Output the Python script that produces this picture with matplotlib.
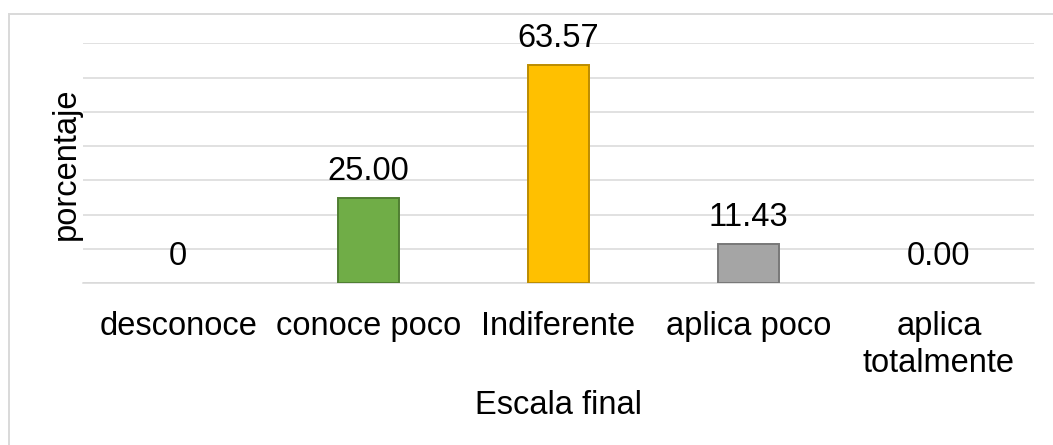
import matplotlib
matplotlib.use("Agg")
import matplotlib.pyplot as plt
from matplotlib.patches import Rectangle

categories = ["desconoce", "conoce poco", "Indiferente", "aplica poco", "aplica\ntotalmente"]
values = [0.0, 25.00, 63.57, 11.43, 0.00]
value_labels = ["0", "25.00", "63.57", "11.43", "0.00"]
bar_colors = ["#5B9BD5", "#70AD47", "#FFC000", "#A5A5A5", "#4472C4"]
edge_colors = ["#41719C", "#507E32", "#BC8C00", "#787878", "#2F528F"]
y_max = 70
y_step = 10

plt.rcParams['font.family'] = ['Liberation Sans', 'DejaVu Sans']
FS = 23.5

W, H = 1053, 445
fig = plt.figure(figsize=(W / 100, H / 100), dpi=100)
ax_left, ax_right, ax_top, ax_bot = 83, 1034, 43.3, 283.3
ax = fig.add_axes([ax_left / W, 1 - ax_bot / H, (ax_right - ax_left) / W, (ax_bot - ax_top) / H])

x = list(range(len(categories)))
lws = [1.4 if v > 0 else 0 for v in values]
bars = ax.bar(x, values, width=0.32, color=bar_colors, edgecolor=edge_colors,
              linewidth=lws, zorder=3)
ax.bar_label(bars, labels=value_labels, padding=13, fontsize=FS, color="black")
for t in ax.texts:
    t.set_va("baseline")

ax.set_xlim(-0.5, len(categories) - 0.5)
ax.set_ylim(0, y_max)
ax.set_yticks(range(0, y_max + 1, y_step))
ax.set_yticklabels([])
ax.tick_params(axis="y", length=0)
ax.grid(axis="y", color="#D9D9D9", linewidth=1.1, zorder=0)
ax.set_axisbelow(True)

ax.set_xticks(x)
ax.set_xticklabels(categories, fontsize=FS, linespacing=1.25)
ax.tick_params(axis="x", length=0, pad=20)

for s in ["top", "right", "left"]:
    ax.spines[s].set_visible(False)
ax.spines["bottom"].set_color("#D9D9D9")
ax.spines["bottom"].set_linewidth(1.1)
ax.spines["bottom"].set_zorder(1)

ax.set_xlabel("Escala final", fontsize=FS, va="baseline")
ax.xaxis.set_label_coords(0.5, (ax_bot - 414) / (ax_bot - ax_top))
ax.set_ylabel("porcentaje", fontsize=FS, va="center")
ax.yaxis.set_label_coords((66.5 - ax_left) / (ax_right - ax_left), 0.5)

frame = Rectangle((9 / W, -0.5), 2.0, 0.5 + (1 - 14 / H), transform=fig.transFigure,
                  fill=False, edgecolor="#D9D9D9", linewidth=1.4, zorder=0)
fig.patches.append(frame)

fig.savefig("out.png", dpi=100)
